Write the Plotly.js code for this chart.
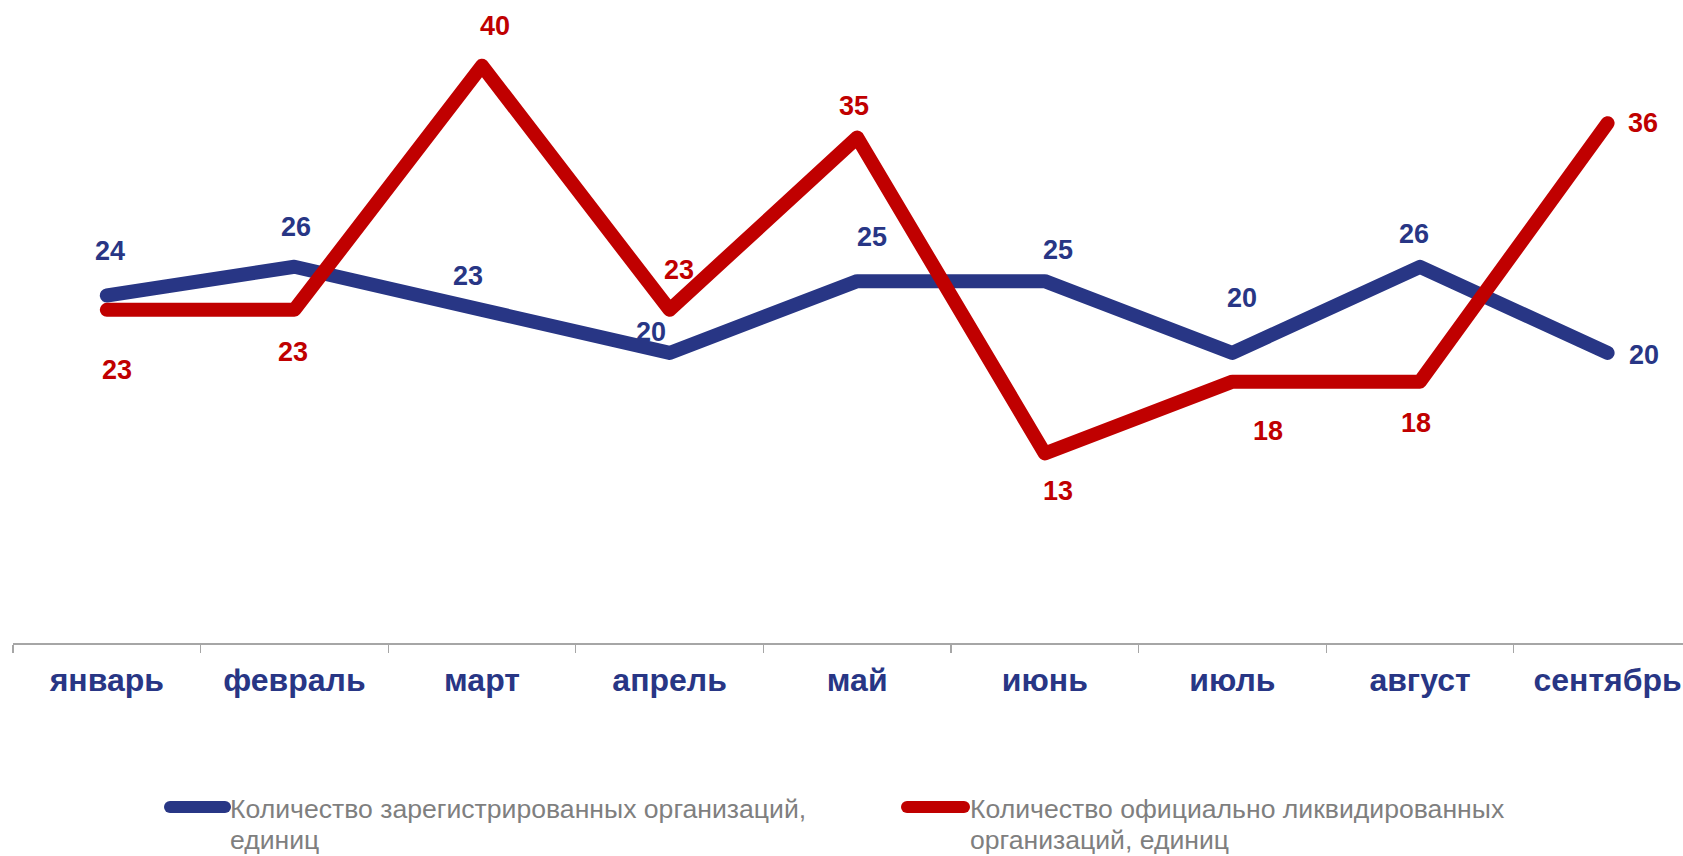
<!DOCTYPE html>
<html>
<head>
<meta charset="utf-8">
<script src="https://cdn.plot.ly/plotly-3.0.1.min.js"></script>
<style>
  html, body { margin: 0; padding: 0; background: #ffffff; }
  #chart { width: 1683px; height: 856px; }
</style>
</head>
<body>
<div id="chart"></div>
<script>
// ---- data ----
const months = ["январь", "февраль", "март", "апрель", "май", "июнь", "июль", "август", "сентябрь"];
const registered = [24, 26, 23, 20, 25, 25, 20, 26, 20];
const liquidated = [23, 23, 40, 23, 35, 13, 18, 18, 36];
const registeredName = ["Количество зарегистрированных организаций,", "единиц"];
const liquidatedName = ["Количество официально ликвидированных", "организаций, единиц"];

// ---- label offsets (style, in pixels) ----
const regOffX = [3, 2, -14, -19, 15, 13, 10, -6, 36];
const regOffY = [-44, -40, -34, -21, -44, -31, -55, -33, 2];
const liqOffX = [10, -1, 13, 9, -3, 13, 36, -4, 35];
const liqOffY = [60, 42, -40, -40, -32, 38, 49, 41, 0];

const BLUE = "#283685";
const RED = "#c00000";
const GREY = "#7f7f7f";
const FONT = "Liberation Sans, Arial, sans-serif";

const W = 1683, H = 856;
const M = { l: 13, r: 0, t: 0, b: 213 };
const PW = W - M.l - M.r, PH = H - M.t - M.b;
const px2paperX = p => (p - M.l) / PW;
const px2paperY = p => (H - M.b - p) / PH;

const idx = months.map((_, i) => i);

const traces = [
  { x: months, y: registered, type: "scatter", mode: "lines", name: registeredName.join(" "),
    line: { color: BLUE, width: 14 }, hoverinfo: "x+y" },
  { x: months, y: liquidated, type: "scatter", mode: "lines", name: liquidatedName.join(" "),
    line: { color: RED, width: 14 }, hoverinfo: "x+y" }
];

const annotations = [];
idx.forEach(i => {
  annotations.push({ x: months[i], y: registered[i], xref: "x", yref: "y", text: String(registered[i]),
    showarrow: false, xshift: regOffX[i], yshift: -regOffY[i],
    font: { family: FONT, size: 27, color: BLUE, weight: "bold" } });
  annotations.push({ x: months[i], y: liquidated[i], xref: "x", yref: "y", text: String(liquidated[i]),
    showarrow: false, xshift: liqOffX[i], yshift: -liqOffY[i],
    font: { family: FONT, size: 27, color: RED, weight: "bold" } });
});

// legend (drawn manually)
const legendItems = [
  { name: registeredName, color: BLUE, x0: 170, x1: 225, tx: 228 },
  { name: liquidatedName, color: RED, x0: 907, x1: 964, tx: 968 }
];
const lineY = [809, 840];
const shapes = [];
legendItems.forEach(it => {
  shapes.push({ type: "line", xref: "paper", yref: "paper",
    x0: px2paperX(it.x0), x1: px2paperX(it.x1), y0: px2paperY(807), y1: px2paperY(807),
    line: { color: it.color, width: 12 } });
  it.name.forEach((t, k) => {
    annotations.push({ xref: "paper", yref: "paper", x: px2paperX(it.tx), y: px2paperY(lineY[k]),
      xanchor: "left", yanchor: "middle", align: "left", showarrow: false, text: t,
      font: { family: FONT, size: 26.6, color: GREY } });
  });
});

const layout = {
  width: W, height: H,
  margin: M,
  paper_bgcolor: "#ffffff", plot_bgcolor: "#ffffff",
  showlegend: false,
  xaxis: {
    type: "category", range: [-0.5, -0.5 + PW / 187.6],
    tickson: "boundaries", ticks: "outside", ticklen: 8, tickcolor: "#a6a6a6", tickwidth: 1.3,
    showline: true, linecolor: "#a6a6a6", linewidth: 1.5,
    showgrid: false, zeroline: false,
    tickfont: { family: FONT, size: 32, color: BLUE, weight: "bold" },
    ticklabelstandoff: 8, fixedrange: true
  },
  yaxis: {
    range: [-0.2, -0.2 + PH / 14.36], visible: false, showgrid: false, zeroline: false, fixedrange: true
  },
  annotations: annotations,
  shapes: shapes,
  font: { family: FONT }
};

Plotly.newPlot("chart", traces, layout, { displayModeBar: false, staticPlot: true }).then(gd => {
  gd.querySelectorAll(".scatterlayer path.js-line, .shapelayer path").forEach(p => {
    p.style.strokeLinecap = "round";
    p.style.strokeLinejoin = "round";
  });
});
</script>
</body>
</html>
